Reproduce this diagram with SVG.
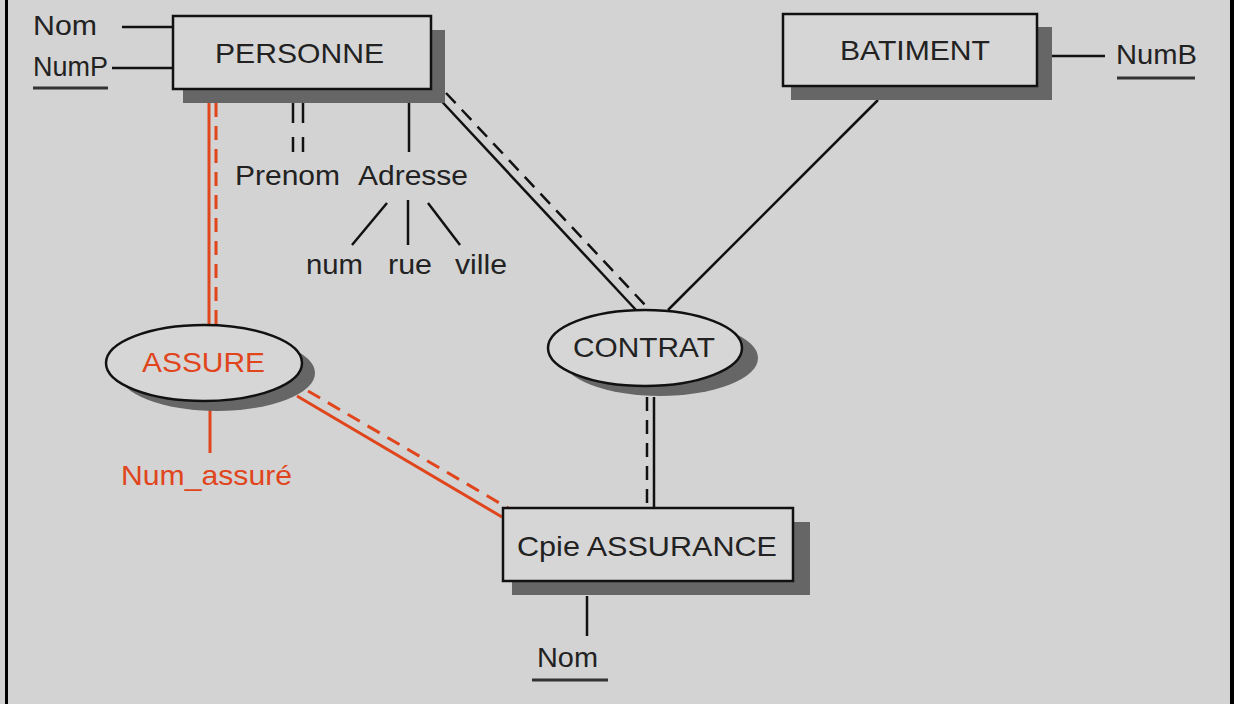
<svg xmlns="http://www.w3.org/2000/svg" width="1234" height="704" viewBox="0 0 1234 704">
<style>
text{font-family:"Liberation Sans",Arial,sans-serif;font-size:28px;fill:#222}
.red{fill:#e0451c}
.box{fill:#d6d6d6;stroke:#111;stroke-width:2.5}
.sh{fill:#666}
.ln{stroke:#111;stroke-width:2.5;fill:none}
.dl{stroke:#111;stroke-width:2.5;fill:none;stroke-dasharray:14 9}
.pd{stroke:#111;stroke-width:2.5;fill:none;stroke-dasharray:20 14}
.rl{stroke:#e0451c;stroke-width:3;fill:none}
.rd{stroke:#e0451c;stroke-width:3;fill:none;stroke-dasharray:14 9}
.ul{stroke:#333;stroke-width:3}
</style>
<rect x="0" y="0" width="1234" height="704" fill="#d3d3d3"/>
<rect x="5" y="0" width="3" height="704" fill="#000"/>
<rect x="1230" y="0" width="4" height="704" fill="#000"/>

<g id="connectors">
  <line class="ln" x1="122" y1="27" x2="173" y2="27"/>
  <line class="ln" x1="112" y1="68" x2="173" y2="68"/>
  <line class="pd" x1="293" y1="103" x2="293" y2="152"/>
  <line class="pd" x1="303" y1="103" x2="303" y2="152"/>
  <line class="ln" x1="409" y1="89" x2="409" y2="152"/>
  <line class="ln" x1="387" y1="203" x2="352" y2="245"/>
  <line class="ln" x1="408" y1="200" x2="408" y2="245"/>
  <line class="ln" x1="428" y1="203" x2="460" y2="245"/>
  <line class="rl" x1="209" y1="103" x2="209" y2="325"/>
  <line class="rd" x1="216" y1="103" x2="216" y2="325"/>
  <line class="rl" x1="210" y1="404" x2="210" y2="453"/>
  <line class="rl" x1="297" y1="396" x2="502" y2="517"/>
  <line class="rd" x1="308" y1="391" x2="508" y2="508"/>
  <line class="ln" x1="433" y1="92" x2="636" y2="310"/>
  <line class="dl" x1="446" y1="93" x2="645" y2="305"/>
  <line class="ln" x1="878" y1="100" x2="668" y2="310"/>
  <line class="ln" x1="1052" y1="56" x2="1105" y2="56"/>
  <line class="ln" x1="654" y1="397" x2="654" y2="508"/>
  <line class="dl" x1="647" y1="397" x2="647" y2="508"/>
  <line class="ln" x1="587" y1="596" x2="587" y2="636"/>
</g>

<g id="attr-nom-p"><text x="33" y="35" textLength="64" lengthAdjust="spacingAndGlyphs">Nom</text></g>
<g id="attr-nump"><text x="33" y="76" textLength="75" lengthAdjust="spacingAndGlyphs">NumP</text><line class="ul" x1="33" y1="88" x2="108" y2="88"/></g>

<g id="personne">
  <rect class="sh" x="183" y="30" width="262" height="73"/>
  <rect class="box" x="173" y="16" width="258" height="73"/>
  <text x="215" y="63" textLength="169" lengthAdjust="spacingAndGlyphs">PERSONNE</text>
</g>

<g id="batiment">
  <rect class="sh" x="791" y="27" width="261" height="73"/>
  <rect class="box" x="783" y="14" width="254" height="72"/>
  <text x="840" y="60" textLength="150" lengthAdjust="spacingAndGlyphs">BATIMENT</text>
</g>
<g id="attr-numb"><text x="1116" y="64" textLength="81" lengthAdjust="spacingAndGlyphs">NumB</text><line class="ul" x1="1117" y1="78" x2="1195" y2="78"/></g>

<g id="attr-prenom"><text x="235" y="185" textLength="105" lengthAdjust="spacingAndGlyphs">Prenom</text></g>
<g id="attr-adresse"><text x="358" y="185" textLength="110" lengthAdjust="spacingAndGlyphs">Adresse</text></g>
<g id="attr-num"><text x="306" y="274" textLength="57" lengthAdjust="spacingAndGlyphs">num</text></g>
<g id="attr-rue"><text x="388" y="274" textLength="44" lengthAdjust="spacingAndGlyphs">rue</text></g>
<g id="attr-ville"><text x="455" y="274" textLength="52" lengthAdjust="spacingAndGlyphs">ville</text></g>

<g id="assure">
  <ellipse class="sh" cx="217" cy="373" rx="98" ry="38"/>
  <ellipse class="box" cx="204" cy="363" rx="98" ry="38"/>
  <text class="red" x="142" y="372" textLength="123" lengthAdjust="spacingAndGlyphs">ASSURE</text>
</g>
<g id="attr-num-assure"><text class="red" x="121" y="485" textLength="171" lengthAdjust="spacingAndGlyphs">Num_assuré</text></g>

<g id="contrat">
  <ellipse class="sh" cx="660" cy="358" rx="98" ry="38"/>
  <ellipse class="box" cx="645" cy="348" rx="97" ry="38"/>
  <text x="573" y="357" textLength="142" lengthAdjust="spacingAndGlyphs">CONTRAT</text>
</g>

<g id="cpie">
  <rect class="sh" x="512" y="522" width="298" height="73"/>
  <rect class="box" x="503" y="508" width="290" height="73"/>
  <text x="517" y="556" textLength="260" lengthAdjust="spacingAndGlyphs">Cpie ASSURANCE</text>
</g>
<g id="attr-nom-c"><text x="537" y="667" textLength="61" lengthAdjust="spacingAndGlyphs">Nom</text><line class="ul" x1="532" y1="680" x2="608" y2="680"/></g>
</svg>
